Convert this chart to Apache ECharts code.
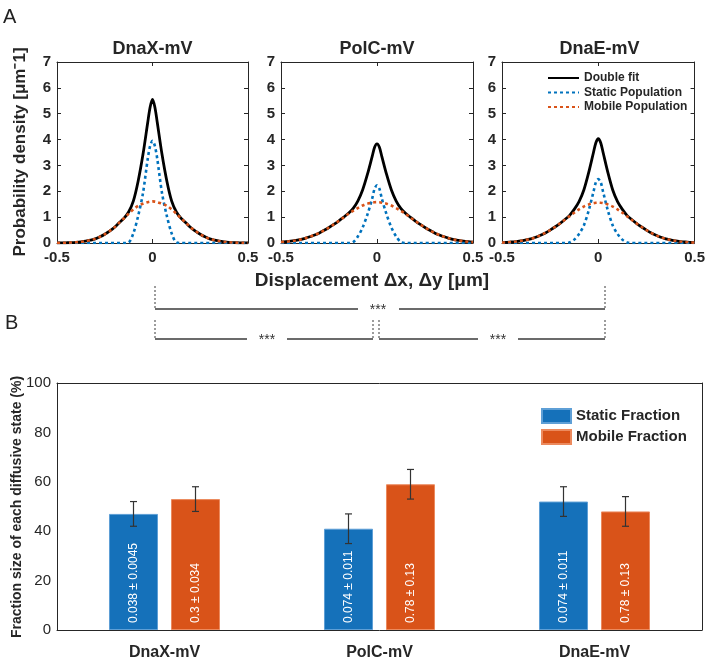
<!DOCTYPE html>
<html>
<head>
<meta charset="utf-8">
<script src="https://cdn.jsdelivr.net/npm/echarts@6/dist/echarts.min.js"></script>
<style>html,body{margin:0;padding:0;background:#fff;}#c{width:708px;height:662px;}</style>
</head>
<body>
<div id="c"></div>
<script>
// ---------- Panel A data ----------
const xs = [-0.5,-0.475,-0.45,-0.425,-0.4,-0.375,-0.35,-0.325,-0.3,-0.275,-0.25,-0.225,-0.2,-0.175,-0.15,-0.125,-0.1,-0.075,-0.05,-0.025,-0.0125,0,0.0125,0.025,0.05,0.075,0.1,0.125,0.15,0.175,0.2,0.225,0.25,0.275,0.3,0.325,0.35,0.375,0.4,0.425,0.45,0.475,0.5];
const panelTitles = ['DnaX-mV','PolC-mV','DnaE-mV'];
const dnaxTotal  = [0.003,0.006,0.01,0.017,0.028,0.045,0.07,0.11,0.16,0.24,0.34,0.46,0.6,0.78,0.95,1.2,1.63,2.4,3.42,4.66,5.25,5.55,5.25,4.66,3.42,2.4,1.63,1.2,0.95,0.78,0.6,0.46,0.34,0.24,0.16,0.11,0.07,0.045,0.028,0.017,0.01,0.006,0.003];
const dnaxStatic = [0,0,0,0,0,0,0,0,0,0,0,0,0,0,0,0.02,0.38,1.05,1.92,3.25,3.75,3.95,3.75,3.25,1.92,1.05,0.38,0.02,0,0,0,0,0,0,0,0,0,0,0,0,0,0,0];
const dnaxMobile = [0.003,0.006,0.01,0.017,0.028,0.045,0.07,0.11,0.16,0.24,0.34,0.46,0.6,0.78,0.95,1.13,1.30,1.44,1.52,1.58,1.60,1.61,1.60,1.58,1.52,1.44,1.30,1.13,0.95,0.78,0.6,0.46,0.34,0.24,0.16,0.11,0.07,0.045,0.028,0.017,0.01,0.006,0.003];
const polcTotal  = [0.033,0.049,0.069,0.097,0.13,0.18,0.24,0.31,0.39,0.49,0.60,0.72,0.85,0.99,1.14,1.33,1.62,2.05,2.65,3.35,3.70,3.83,3.70,3.35,2.65,2.05,1.62,1.33,1.14,0.99,0.85,0.72,0.60,0.49,0.39,0.31,0.24,0.18,0.13,0.097,0.069,0.049,0.033];
const polcStatic = [0,0,0,0,0,0,0,0,0,0,0,0,0,0,0,0.03,0.25,0.6,1.10,1.72,2.10,2.23,2.10,1.72,1.10,0.6,0.25,0.03,0,0,0,0,0,0,0,0,0,0,0,0,0,0,0];
const polcMobile = [0.033,0.049,0.069,0.097,0.13,0.18,0.24,0.31,0.39,0.49,0.60,0.72,0.85,0.98,1.12,1.24,1.35,1.45,1.52,1.56,1.575,1.58,1.575,1.56,1.52,1.45,1.35,1.24,1.12,0.98,0.85,0.72,0.60,0.49,0.39,0.31,0.24,0.18,0.13,0.097,0.069,0.049,0.033];
const dnaeTotal  = [0.016,0.025,0.038,0.057,0.083,0.12,0.16,0.22,0.30,0.39,0.50,0.62,0.75,0.90,1.06,1.3,1.6,2.05,2.72,3.5,3.88,4.04,3.88,3.5,2.72,2.05,1.6,1.3,1.06,0.90,0.75,0.62,0.50,0.39,0.30,0.22,0.16,0.12,0.083,0.057,0.038,0.025,0.016];
const dnaeStatic = [0,0,0,0,0,0,0,0,0,0,0,0,0,0,0.02,0.13,0.35,0.68,1.25,1.98,2.35,2.47,2.35,1.98,1.25,0.68,0.35,0.13,0.02,0,0,0,0,0,0,0,0,0,0,0,0,0,0];
const dnaeMobile = [0.016,0.025,0.038,0.057,0.083,0.12,0.16,0.22,0.30,0.39,0.50,0.62,0.75,0.89,1.03,1.17,1.30,1.41,1.49,1.54,1.555,1.56,1.555,1.54,1.49,1.41,1.30,1.17,1.03,0.89,0.75,0.62,0.50,0.39,0.30,0.22,0.16,0.12,0.083,0.057,0.038,0.025,0.016];
const yTicksA = [0,1,2,3,4,5,6,7];
const xTicksA = [-0.5,0,0.5];

// ---------- Panel B data ----------
const groups = ['DnaX-mV','PolC-mV','DnaE-mV'];
const staticFrac = [47,41,52];
const staticErr  = [5,6,6];
const mobileFrac = [53,59,48];
const mobileErr  = [5,6,6];
const staticLabels = ['0.038 ± 0.0045','0.074 ± 0.011','0.074 ± 0.011'];
const mobileLabels = ['0.3 ± 0.034','0.78 ± 0.13','0.78 ± 0.13'];
const yTicksB = [0,20,40,60,80,100];

// ---------- build option ----------
const AX = '#262626';
const FONT = 'Liberation Sans, Arial, Helvetica, sans-serif';
const panelData = [[dnaxTotal,dnaxStatic,dnaxMobile],[polcTotal,polcStatic,polcMobile],[dnaeTotal,dnaeStatic,dnaeMobile]];
const gridsA = [
  {left:57, top:62, width:191, height:181},
  {left:281, top:62, width:192, height:181},
  {left:502, top:62, width:195, height:181}
];
const grid = gridsA.concat([{left:57, top:383, width:645, height:247}]);
const xAxis = [], yAxis = [], series = [];
const lineAx = {show:true, onZero:false, lineStyle:{color:AX, width:1}};
gridsA.forEach((g,i)=>{
  const xb = {type:'value', gridIndex:i, min:xTicksA[0], max:xTicksA[xTicksA.length-1], interval:0.5,
    axisLine:lineAx, splitLine:{show:false}, axisTick:{inside:true, length:4, lineStyle:{color:AX}}};
  xAxis.push(Object.assign({}, xb, {position:'bottom',
    axisLabel:{fontSize:15, fontWeight:'bold', color:AX, margin:7, fontFamily:FONT, formatter:v=>String(v)}}));
  xAxis.push(Object.assign({}, xb, {position:'top', axisLabel:{show:false}}));
  const yb = {type:'value', gridIndex:i, min:yTicksA[0], max:yTicksA[yTicksA.length-1], interval:1,
    axisLine:lineAx, splitLine:{show:false}, axisTick:{inside:true, length:4, lineStyle:{color:AX}}};
  yAxis.push(Object.assign({}, yb, {position:'left',
    axisLabel:{fontSize:15, fontWeight:'bold', color:AX, margin:6, fontFamily:FONT}}));
  yAxis.push(Object.assign({}, yb, {position:'right', axisLabel:{show:false}}));
  const d = panelData[i];
  const names = ['Double fit','Static Population','Mobile Population'];
  const styles = [
    {color:'#000000', width:2.8, type:'solid'},
    {color:'#0072BD', width:2.6, type:[3,3]},
    {color:'#D95319', width:2.6, type:[3,3]}
  ];
  d.forEach((arr,k)=>{
    series.push({type:'line', name:names[k], xAxisIndex:2*i, yAxisIndex:2*i, symbol:'none', smooth:0.3,
      itemStyle:{color:styles[k].color}, lineStyle:styles[k], z:2+k, animation:false,
      data: xs.map((x,j)=>[x, arr[j]])});
  });
});
// Panel B axes
xAxis.push({type:'category', gridIndex:3, data:groups, position:'bottom',
  axisLine:lineAx, axisTick:{alignWithLabel:true, inside:true, length:5, lineStyle:{color:AX}},
  axisLabel:{fontSize:16, fontWeight:'bold', color:AX, margin:15, fontFamily:FONT}});
xAxis.push({type:'category', gridIndex:3, data:groups, position:'top',
  axisLine:lineAx, axisTick:{alignWithLabel:true, inside:true, length:5, lineStyle:{color:AX}},
  axisLabel:{show:false}});
yAxis.push({type:'value', gridIndex:3, min:yTicksB[0], max:yTicksB[yTicksB.length-1], interval:20, position:'left',
  axisLine:lineAx, splitLine:{show:false}, axisTick:{inside:true, length:5, lineStyle:{color:AX}},
  axisLabel:{fontSize:15, color:AX, margin:6, fontFamily:FONT}});
yAxis.push({type:'value', gridIndex:3, min:yTicksB[0], max:yTicksB[yTicksB.length-1], interval:20, position:'right',
  axisLine:lineAx, splitLine:{show:false}, axisTick:{inside:true, length:5, lineStyle:{color:AX}},
  axisLabel:{show:false}});

const BW = 0.228, BG = 0.265;
function barSeries(name, vals, labels, color, border){
  return {type:'bar', name:name, xAxisIndex:6, yAxisIndex:6, barWidth:(BW*100)+'%', barGap:(BG*100)+'%',
    itemStyle:{color:color, borderColor:border, borderWidth:1}, animation:false,
    label:{show:true, position:'insideBottom', distance:7, rotate:90, align:'left', verticalAlign:'middle',
      color:'#ffffff', fontSize:12, fontFamily:FONT, formatter:p=>labels[p.dataIndex]},
    data: vals};
}
series.push(barSeries('Static Fraction', staticFrac, staticLabels, '#1571BA', '#5e9fd6'));
series.push(barSeries('Mobile Fraction', mobileFrac, mobileLabels, '#D95319', '#ec8a5e'));
function errSeries(vals, errs, side){
  return {type:'custom', xAxisIndex:6, yAxisIndex:6, z:10, animation:false,
    data: vals.map((v,i)=>[i, v, errs[i]]),
    renderItem:(params, api)=>{
      const idx = api.value(0), v = api.value(1), e = api.value(2);
      const band = api.size([1,0])[0];
      const bw = band*BW, gap = bw*BG;
      const cx = api.coord([idx, v])[0] + side*(bw+gap)/2;
      const yt = api.coord([idx, v+e])[1], yb = api.coord([idx, v-e])[1];
      const cap = 3.5;
      const st = {stroke:'#333333', lineWidth:1.2};
      return {type:'group', children:[
        {type:'line', shape:{x1:cx, y1:yt, x2:cx, y2:yb}, style:st},
        {type:'line', shape:{x1:cx-cap, y1:yt, x2:cx+cap, y2:yt}, style:st},
        {type:'line', shape:{x1:cx-cap, y1:yb, x2:cx+cap, y2:yb}, style:st}
      ]};
    }};
}
series.push(errSeries(staticFrac, staticErr, -1));
series.push(errSeries(mobileFrac, mobileErr, 1));

// annotation graphics (brackets, axis titles, panel letters)
const BC = '#3a3a3a';
function ln(x1,y1,x2,y2,dash){return {type:'line', shape:{x1,y1,x2,y2}, style:{stroke:BC, lineWidth:dash?1:1.3, lineDash:dash?[2,2]:null}};}
function star(x,y){return {type:'text', x:x, y:y+1, style:{text:'***', fill:'#333', textAlign:'center', textVerticalAlign:'middle', font:'14px '+FONT}};}
const graphic = [
  {type:'text', x:3, y:7, style:{text:'A', font:'20px '+FONT, fill:'#222'}},
  {type:'text', x:5, y:313, style:{text:'B', font:'20px '+FONT, fill:'#222'}},
  {type:'text', x:20, y:152, rotation:Math.PI/2, style:{text:'Probability density [μm⁻1]', font:'bold 17px '+FONT, fill:AX, textAlign:'center', textVerticalAlign:'middle'}},
  {type:'text', x:372, y:281, style:{text:'Displacement Δx, Δy [μm]', font:'bold 19px '+FONT, fill:AX, textAlign:'center', textVerticalAlign:'middle'}},
  {type:'text', x:17, y:507, rotation:Math.PI/2, style:{text:'Fraction size of each diffusive state (%)', font:'bold 14px '+FONT, fill:AX, textAlign:'center', textVerticalAlign:'middle'}},
  ln(155,286,155,309,true), ln(605,286,605,309,true), ln(155,309,358,309), ln(399,309,605,309), star(378,309),
  ln(155,320,155,339,true), ln(373,320,373,339,true), ln(155,339,247,339), ln(287,339,373,339), star(267,339),
  ln(379,320,379,339,true), ln(605,320,605,339,true), ln(379,339,478,339), ln(518,339,605,339), star(498,339)
];

const title = panelTitles.map((t,i)=>({text:t, left:gridsA[i].left+gridsA[i].width/2, top:40, textAlign:'center',
  textStyle:{fontSize:18, fontWeight:'bold', color:AX, fontFamily:FONT}, padding:0}));

const option = {
  animation:false,
  textStyle:{fontFamily:FONT},
  title: title,
  grid: grid,
  xAxis: xAxis,
  yAxis: yAxis,
  legend: [
    {data:['Double fit','Static Population','Mobile Population'], orient:'vertical', left:547, top:72, padding:0,
      itemWidth:31, itemHeight:12, itemGap:2.5, itemStyle:{opacity:0}, selectedMode:false,
      textStyle:{fontSize:12, fontWeight:'bold', color:AX, fontFamily:FONT}},
    {data:['Static Fraction','Mobile Fraction'], orient:'vertical', left:541, top:408, padding:0, icon:'rect',
      itemWidth:29, itemHeight:14, itemGap:5, selectedMode:false,
      textStyle:{fontSize:15, fontWeight:'bold', color:AX, fontFamily:FONT}}
  ],
  graphic: graphic,
  series: series
};
const chart = echarts.init(document.getElementById('c'), null, {renderer:'canvas'});
chart.setOption(option);
</script>
</body>
</html>
